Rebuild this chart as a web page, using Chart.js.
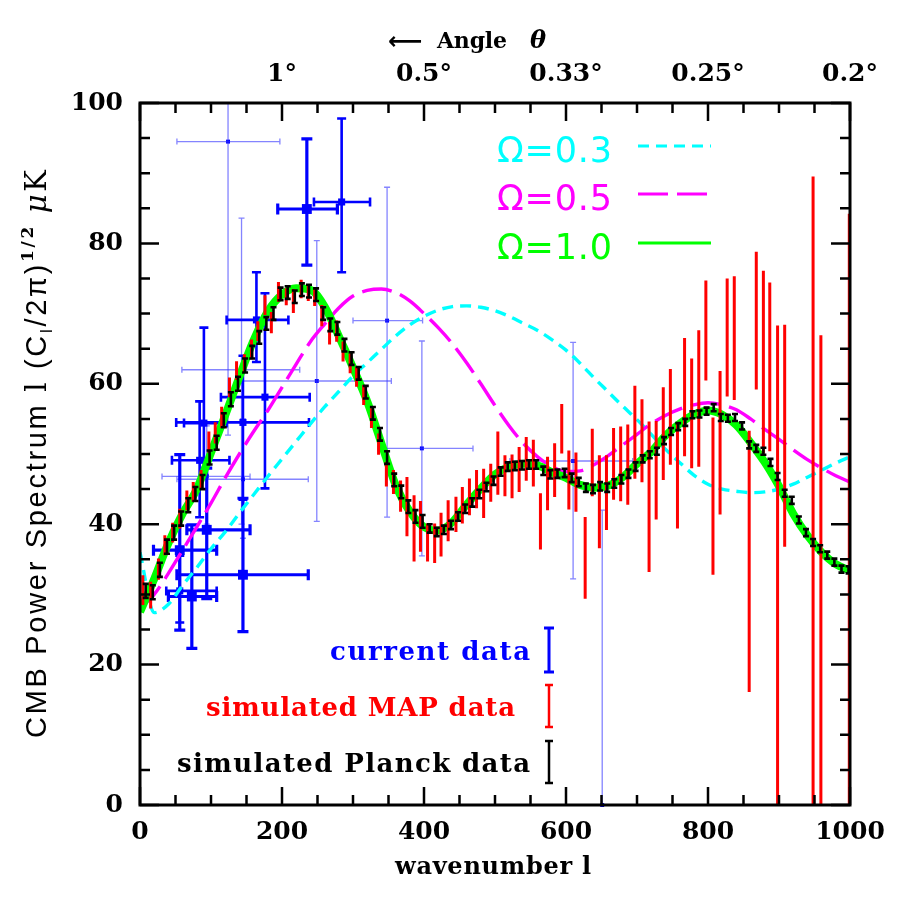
<!DOCTYPE html>
<html><head><meta charset="utf-8">
<script src="https://cdn.jsdelivr.net/npm/chart.js@4.4.0/dist/chart.umd.min.js"></script>
<style>html,body{margin:0;padding:0;background:#fff}</style>
</head><body>
<canvas id="c" width="900" height="900"></canvas>
<script>
// ---------------- data ----------------
const modelL = [0,20,40,60,80,100,120,140,160,180,200,220,240,260,280,300,320,340,360,380,400,420,440,460,480,500,520,540,560,580,600,620,640,660,680,700,720,740,760,780,800,820,840,860,880,900,920,940,960,980,1000];
const omega03 = [36.0,27.4,28.6,31.3,33.8,36.5,38.9,41.6,44.2,46.8,49.3,51.8,54.3,56.7,58.9,61.1,63.0,64.9,66.8,68.4,69.6,70.5,71.0,71.1,70.9,70.4,69.6,68.6,67.6,66.3,64.8,62.9,60.8,58.8,56.8,54.9,52.8,50.7,48.8,47.0,45.7,45.0,44.7,44.5,44.6,45.0,45.7,46.7,47.7,48.7,49.6];
const omega05 = [28.0,30.0,33.0,36.3,39.6,43.0,46.6,50.0,53.2,56.2,59.5,62.8,66.0,68.5,70.8,72.5,73.3,73.5,73.0,71.8,70.0,68.0,65.7,63.0,60.0,56.9,54.0,51.5,49.6,48.2,47.5,47.6,48.5,49.8,51.3,52.8,54.3,55.5,56.4,57.0,57.3,57.0,56.3,55.0,53.5,52.1,50.6,49.2,48.0,46.9,46.0];
const omega10 = [27.5,32.2,37.3,41.5,45.0,50.2,55.5,61.0,66.2,70.3,72.7,73.6,73.4,71.0,66.8,62.3,57.5,51.5,45.6,41.8,39.6,39.1,40.3,42.8,45.1,47.1,48.2,48.6,48.4,47.4,46.6,45.6,45.2,45.5,46.7,48.6,50.3,52.6,54.3,55.6,56.2,55.6,54.1,51.6,48.8,45.4,41.5,38.4,36.0,34.3,33.4];

const planckL = [8,18,28,38,48,58,68,78,88,98,108,118,128,138,148,158,168,178,188,198,208,218,228,238,248,258,268,278,288,298,308,318,328,338,348,358,368,378,388,398,408,418,428,438,448,458,468,478,488,498,508,518,528,538,548,558,568,578,588,598,608,618,628,638,648,658,668,678,688,698,708,718,728,738,748,758,768,778,788,798,808,818,828,838,848,858,868,878,888,898,908,918,928,938,948,958,968,978,988,998];
const planckCl = [30.5,30.3,33.5,36.8,38.8,40.8,42.7,44.3,46.0,49.5,51.6,54.8,57.8,60.0,62.6,64.5,66.6,68.6,70.0,72.8,73.0,72.4,73.4,73.2,72.7,70.0,68.4,67.9,65.5,63.6,61.5,58.8,55.8,52.8,49.5,46.3,44.6,42.5,41.1,40.4,39.4,38.9,39.2,39.9,41.1,42.2,43.1,44.3,45.3,46.2,47.5,48.2,48.3,48.4,48.5,48.5,47.6,47.1,47.2,47.3,46.6,46.0,45.2,45.0,45.4,45.2,45.8,46.4,47.2,48.2,49.3,49.9,50.4,51.9,53.2,53.9,54.5,55.6,55.7,56.1,56.6,55.2,55.1,55.2,54.0,51.3,50.8,50.4,48.8,46.8,44.4,43.4,40.6,38.8,37.4,36.5,35.6,34.6,33.6,33.5];
const planckErr = [1.0,1.0,1.0,1.0,1.0,1.0,1.0,1.0,1.0,1.0,1.0,1.0,1.0,1.0,1.0,0.9,0.9,0.9,0.9,0.9,0.9,0.9,0.9,0.9,0.9,0.9,0.9,0.9,0.9,0.9,0.9,0.9,0.9,0.9,0.9,0.9,0.9,0.9,0.9,0.9,0.6,0.6,0.6,0.6,0.6,0.6,0.6,0.6,0.6,0.6,0.6,0.6,0.6,0.6,0.6,0.6,0.6,0.6,0.6,0.6,0.6,0.6,0.6,0.6,0.6,0.6,0.6,0.6,0.6,0.6,0.5,0.5,0.5,0.5,0.5,0.5,0.5,0.5,0.5,0.5,0.5,0.5,0.5,0.5,0.5,0.5,0.5,0.5,0.5,0.5,0.5,0.5,0.5,0.5,0.5,0.5,0.5,0.5,0.5,0.5];

const mapL = [4,15,26,35,46,56,66,75,86,97,106,115,126,136,147,157,166,176,185,195,206,216,227,237,246,256,267,277,286,296,305,315,326,336,347,357,367,376,386,395,405,415,424,434,445,454,464,474,484,494,504,514,524,534,544,554,564,574,584,594,604,614,627,637,647,657,667,677,687,697,707,717,727,737,747,757,767,777,787,797,807,817,827,837,858,868,878,887,898,908,948,959,999];
const mapCl = [30.6,29.9,33.6,37.0,38.8,40.8,43.4,44.6,46.3,51.7,53.0,55.2,59.5,61.9,62.9,64.9,67.5,71.2,68.7,73.1,72.4,71.8,73.5,73.0,72.3,69.7,67.2,67.5,64.6,62.9,61.0,58.4,55.1,51.4,47.1,46.0,44.0,42.5,39.4,39.7,37.4,37.3,38.5,40.5,41.4,42.7,43.9,45.0,44.4,45.9,48.7,46.9,46.8,47.8,49.3,48.7,40.4,45.8,47.7,53.6,46.3,46.0,35.2,48.8,43.2,44.5,48.6,48.6,48.5,53.1,51.9,43.9,47.7,52.9,55.3,46.9,58.1,55.8,57.9,67.6,44.0,51.6,66.6,66.5,34.7,69.0,63.1,62.4,30.0,52.6,40.0,30.0,36.0];
const mapErr = [1.9,1.7,1.3,1.2,1.2,1.2,1.2,1.2,1.2,1.3,1.3,1.3,1.2,1.1,1.1,1.2,1.2,1.2,1.3,1.2,1.0,1.5,1.1,1.0,1.0,1.3,1.4,1.3,1.2,1.2,1.2,1.2,1.2,1.3,1.5,1.5,2.0,4.0,4.5,3.4,2.5,2.6,2.9,2.7,2.3,2.4,2.4,2.5,3.3,2.5,4.3,2.7,2.9,3.0,2.9,3.1,3.8,3.6,3.6,3.3,4.0,4.0,5.6,4.6,6.4,5.1,4.9,5.1,5.5,6.4,5.7,10.5,6.8,6.4,6.6,7.3,8.2,7.6,9.5,6.9,11.0,10.0,8.2,8.6,18.4,9.6,12.8,11.8,38.1,15.6,49.3,36.7,48.0];

// current data: [l, Cl, lMin, lMax, ClMin, ClMax]
const currentBold = [[235,84.9,194,278,76.9,94.9],[145,32.8,52,237,24.7,43.7],[73,29.7,40,108,22.3,39.9],[56,36.3,19,108,24.9,49.9],[94,39.2,66,155,29.4,48.0]];
const currentMedium = [[284,85.9,245,324,75.9,97.8],[164,69.1,122,209,63.1,75.9],[176,58.1,114,239,45.1,72.9],[145,54.5,51,238,43.5,64.0],[90,54.4,62,122,47.0,68.0],[84,49.1,45,126,41.0,57.5],[56,30.5,37,108,26.0,35.5]];
const currentThin = [[124,94.5,52,197,52.7,110],[348,69.0,300,398,41.0,88.0],[249,60.4,143,354,40.4,80.4],[143,62.0,59,225,40.0,83.6],[397,50.8,335,469,35.5,66.1],[610,49.0,521,694,32.2,65.9],[651,0,651,651,-5,42],[94,46.8,31,155,40.0,54.0],[145,46.4,52,237,38.0,55.0]];

const xTickValues = [0,200,400,600,800,1000];
const yTickValues = [0,20,40,60,80,100];
const angleTickL = [200,400,600,800,1000];
const angleTickLabels = ['1°','0.5°','0.33°','0.25°','0.2°'];
const legendLabels = ['Ω=0.3','Ω=0.5','Ω=1.0'];
const dataLegendLabels = ['current data','simulated MAP data','simulated Planck data'];

// ---------------- helpers ----------------
const SERIF = "'DejaVu Serif', serif";
const SANS = "'DejaVu Sans', sans-serif";
const HELV = "'Liberation Sans', Arial, sans-serif";
const BLUE='#0000ff', RED='#ff0000', GREEN='#00ff00', CYAN='#00ffff', MAGENTA='#ff00ff';

const pts = (xs, ys) => xs.map((x,i)=>({x, y: ys[i]}));
const errPts = (xs, ys, es) => xs.map((x,i)=>({x, y: ys[i], yMin: ys[i]-es[i], yMax: ys[i]+es[i]}));
const curPts = arr => arr.map(r=>({x:r[0], y:r[1], xMin:r[2], xMax:r[3], yMin:r[4], yMax:r[5]}));

const errorBarPlugin = {
  id:'errbars',
  afterDatasetDraw(chart, args){
    const ds = chart.data.datasets[args.index];
    if(!ds.eb) return;
    const {ctx, chartArea:a} = chart;
    const xs = chart.scales.x, ys = chart.scales.y;
    ctx.save();
    ctx.beginPath(); ctx.rect(a.left, a.top, a.right-a.left, a.bottom-a.top); ctx.clip();
    ctx.strokeStyle = ds.eb.color; ctx.lineWidth = ds.eb.width; ctx.lineCap='butt';
    const c = ds.eb.cap;
    ds.data.forEach(p=>{
      const px = xs.getPixelForValue(p.x), py = ys.getPixelForValue(p.y);
      ctx.beginPath();
      if(p.yMin!=null){
        const y1 = ys.getPixelForValue(p.yMin), y2 = ys.getPixelForValue(p.yMax);
        ctx.moveTo(px,y1); ctx.lineTo(px,y2);
        if(c){ ctx.moveTo(px-c,y1); ctx.lineTo(px+c,y1); ctx.moveTo(px-c,y2); ctx.lineTo(px+c,y2); }
      }
      if(p.xMin!=null && p.xMax>p.xMin){
        const x1 = xs.getPixelForValue(p.xMin), x2 = xs.getPixelForValue(p.xMax);
        ctx.moveTo(x1,py); ctx.lineTo(x2,py);
        if(c){ ctx.moveTo(x1,py-c); ctx.lineTo(x1,py+c); ctx.moveTo(x2,py-c); ctx.lineTo(x2,py+c); }
      }
      ctx.stroke();
    });
    ctx.restore();
  }
};

function fitText(ctx, text, font, x, y, target, align){
  ctx.font = font;
  const chars = [...text];
  const nat = chars.reduce((s,ch)=>s+ctx.measureText(ch).width,0);
  const sp = chars.length>1 ? (target-nat)/(chars.length-1) : 0;
  let cx = align==='right' ? x-target : (align==='center' ? x-target/2 : x);
  for(const ch of chars){ ctx.fillText(ch, cx, y); cx += ctx.measureText(ch).width + sp; }
}

const framePlugin = {
  id:'frame',
  afterDraw(chart){
    const {ctx, chartArea:a} = chart;
    const xs = chart.scales.x, ys = chart.scales.y;
    ctx.save();
    ctx.strokeStyle='#000'; ctx.lineWidth=2.5; ctx.lineCap='butt';
    ctx.beginPath();
    for(let v=0; v<=1000; v+=50){
      const px = xs.getPixelForValue(v);
      const len = (v%200===0) ? 18 : 10;
      ctx.moveTo(px,a.bottom); ctx.lineTo(px,a.bottom-len);
      ctx.moveTo(px,a.top); ctx.lineTo(px,a.top+len);
    }
    for(let v=0; v<=100; v+=5){
      const py = ys.getPixelForValue(v);
      const len = (v%20===0) ? 19 : 10;
      ctx.moveTo(a.left,py); ctx.lineTo(a.left+len,py);
      ctx.moveTo(a.right,py); ctx.lineTo(a.right-len,py);
    }
    ctx.stroke();
    ctx.lineWidth=3;
    ctx.strokeRect(a.left, a.top, a.right-a.left, a.bottom-a.top);

    // axis titles
    ctx.fillStyle='#000';
    ctx.textBaseline='alphabetic';
    fitText(ctx, 'wavenumber l', "bold 24px "+SERIF, 493, 874, 196, 'center');
    fitText(ctx, '⟵', "bold 24px "+SANS, 388, 49, 34, 'left');
    fitText(ctx, 'Angle', "bold 22px "+SERIF, 437, 48, 70, 'left');
    ctx.font = "italic bold 24px "+SERIF;
    ctx.fillText('θ', 530, 48);

    // y title (rotated)
    ctx.save();
    ctx.translate(46, 738);
    ctx.rotate(-Math.PI/2);
    const segs = [
      {t:'CMB Power Spectrum ', f:"29px "+HELV, dy:0},
      {t:'l', f:"29px "+SERIF, dy:0},
      {t:' (C', f:"29px "+HELV, dy:0},
      {t:'l', f:"17px "+HELV, dy:6},
      {t:'/2π)', f:"29px "+HELV, dy:0},
      {t:'1/2', f:"bold 17px "+SERIF, dy:-13},
      {t:' ', f:"29px "+HELV, dy:0},
      {t:'μ', f:"italic 29px "+SERIF, dy:0},
      {t:'K', f:"29px "+SERIF, dy:0}
    ];
    let nat=0, n=0;
    segs.forEach(s=>{ ctx.font=s.f; [...s.t].forEach(ch=>{ nat+=ctx.measureText(ch).width; n++; }); });
    const sp = Math.max(0,(568-nat)/(n-1));
    let cx=0;
    segs.forEach(s=>{ ctx.font=s.f; [...s.t].forEach(ch=>{ ctx.fillText(ch, cx, s.dy); cx+=ctx.measureText(ch).width+sp; }); });
    ctx.restore();

    // model legend
    const lc = [CYAN, MAGENTA, GREEN];
    const lb = [162, 210, 259];
    const dashes = [[11,7],[30,9],[]];
    legendLabels.forEach((t,i)=>{
      ctx.fillStyle = lc[i];
      fitText(ctx, t, "35px "+SANS, 497, lb[i], 115, 'left');
      ctx.strokeStyle = lc[i]; ctx.lineWidth=3.2; ctx.setLineDash(dashes[i]);
      ctx.beginPath(); ctx.moveTo(638, lb[i]-16); ctx.lineTo(711, lb[i]-16); ctx.stroke();
    });
    ctx.setLineDash([]);

    // data legend
    const dc = [BLUE, RED, '#000'];
    const db = [660, 716, 772];
    const dr = [530, 515, 530];
    const dw = [200, 309, 353];
    const bars = [[628,672,3,5],[685,727,2.5,4],[741,783,2.5,4]];
    dataLegendLabels.forEach((t,i)=>{
      ctx.fillStyle = dc[i];
      fitText(ctx, t, "bold 26px "+SERIF, dr[i], db[i], dw[i], 'right');
      const b = bars[i];
      ctx.strokeStyle = dc[i]; ctx.lineWidth=b[2];
      ctx.beginPath();
      ctx.moveTo(549,b[0]); ctx.lineTo(549,b[1]);
      ctx.moveTo(549-b[3],b[0]); ctx.lineTo(549+b[3],b[0]);
      ctx.moveTo(549-b[3],b[1]); ctx.lineTo(549+b[3],b[1]);
      ctx.stroke();
    });
    ctx.restore();
  }
};

const tickFont = {family: SERIF, size: 25, weight: 'bold'};

new Chart(document.getElementById('c'), {
  data: {
    datasets: [
      {type:'scatter', label:'current thin', data: curPts(currentThin), order:9, clip:6,
       pointStyle:'rect', pointRadius:2.8, backgroundColor:BLUE, borderColor:BLUE, borderWidth:0,
       eb:{color:'rgba(50,50,255,0.6)', width:1.3, cap:3}},
      {type:'scatter', label:'current medium', data: curPts(currentMedium), order:8,
       pointStyle:'rect', pointRadius:5, backgroundColor:BLUE, borderColor:BLUE, borderWidth:0,
       eb:{color:BLUE, width:2.6, cap:4.5}},
      {type:'scatter', label:'current bold', data: curPts(currentBold), order:7,
       pointStyle:'rect', pointRadius:7, backgroundColor:BLUE, borderColor:BLUE, borderWidth:0,
       eb:{color:BLUE, width:3.2, cap:5.5}},
      {type:'line', label:'Ω=0.3', data: pts(modelL, omega03), order:6,
       borderColor:CYAN, borderWidth:3.4, borderDash:[11,7], pointRadius:0, cubicInterpolationMode:'monotone', fill:false},
      {type:'line', label:'Ω=0.5', data: pts(modelL, omega05), order:5,
       borderColor:MAGENTA, borderWidth:3.4, borderDash:[30,9], pointRadius:0, cubicInterpolationMode:'monotone', fill:false},
      {type:'line', label:'Ω=1.0', data: pts(modelL, omega10), order:4,
       borderColor:GREEN, borderWidth:8, pointRadius:0, cubicInterpolationMode:'monotone', fill:false},
      {type:'scatter', label:'MAP', data: errPts(mapL, mapCl, mapErr), order:3,
       pointRadius:0, eb:{color:RED, width:3, cap:1.5}},
      {type:'scatter', label:'Planck', data: errPts(planckL, planckCl, planckErr), order:2,
       pointRadius:0, eb:{color:'#000', width:2.6, cap:3}}
    ]
  },
  options: {
    responsive:false, animation:false, devicePixelRatio:1,
    layout:{padding:{left:0, right:50, top:0, bottom:0}},
    plugins:{legend:{display:false}, tooltip:{enabled:false}},
    scales:{
      x:{type:'linear', position:'bottom', min:0, max:1000,
         afterBuildTicks: s=>{ s.ticks = xTickValues.map(v=>({value:v})); },
         ticks:{font:tickFont, color:'#000', padding:12, maxRotation:0, autoSkip:false, callback: v=>String(v)},
         grid:{display:false, drawTicks:false}, border:{display:false},
         afterFit: s=>{ s.height = 95; }},
      x2:{type:'linear', position:'top', min:0, max:1000,
         afterBuildTicks: s=>{ s.ticks = angleTickL.map(v=>({value:v})); },
         ticks:{font:tickFont, color:'#000', padding:14, maxRotation:0, autoSkip:false,
                callback: v=>angleTickLabels[angleTickL.indexOf(v)]},
         grid:{display:false, drawTicks:false}, border:{display:false},
         afterFit: s=>{ s.height = 103; }},
      y:{type:'linear', position:'left', min:0, max:100,
         afterBuildTicks: s=>{ s.ticks = yTickValues.map(v=>({value:v})); },
         ticks:{font:tickFont, color:'#000', padding:17, callback: v=>String(v)},
         grid:{display:false, drawTicks:false}, border:{display:false},
         afterFit: s=>{ s.width = 140; }}
    }
  },
  plugins:[errorBarPlugin, framePlugin]
});
</script>
</body></html>
